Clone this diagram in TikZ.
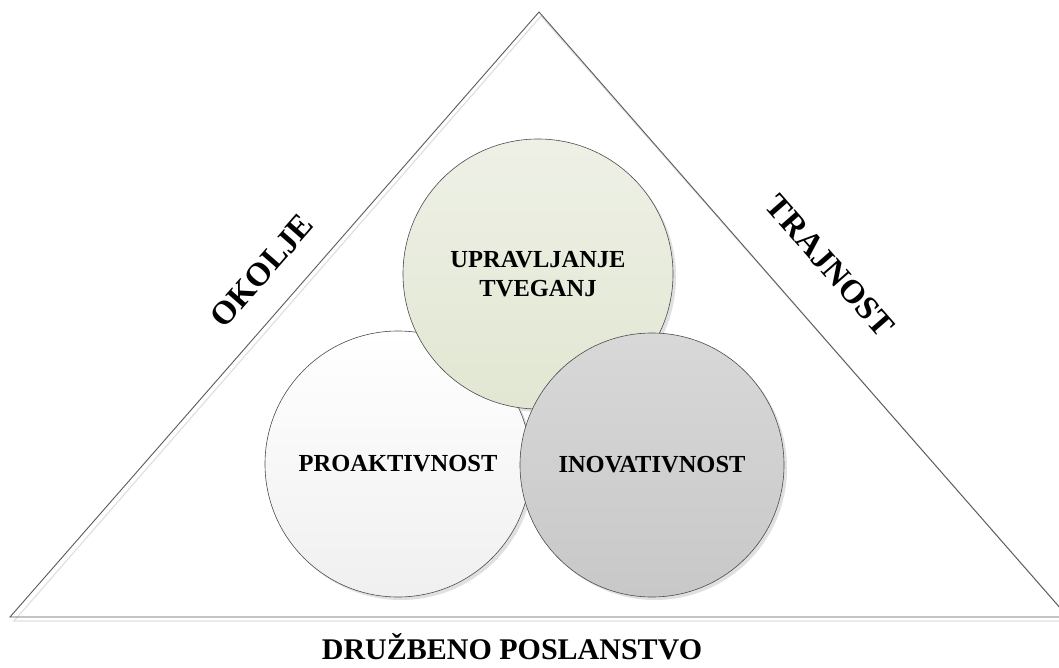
\documentclass[tikz,border=0pt]{standalone}
\usepackage{fontspec}
\setmainfont{Liberation Serif}
\begin{document}
\begin{tikzpicture}[x=1pt,y=-1pt,
  edge/.style={draw=black!65, line width=0.9pt},
  edgeshadow/.style={draw=black!12, line width=1.2pt},
  ball/.style={circle, inner sep=0pt, draw=black!70, line width=0.6pt,
    align=center, font=\fontsize{24.5}{29}\selectfont\bfseries},
  ballshadow/.style={circle, inner sep=0pt, fill=black!12},
  sidelabel/.style={font=\fontsize{33}{36}\selectfont\bfseries},
  baselabel/.style={font=\fontsize{30}{34}\selectfont\bfseries}]
  \useasboundingbox (0,0) rectangle (1059,668);
  \clip (0,0) rectangle (1059,668);

  % triangle corners
  \coordinate (apex) at (539,12);
  \coordinate (bl) at (10,617);
  \coordinate (br) at (1068,617);
  \coordinate (apexs) at (541,16);
  \coordinate (bls) at (14,621);
  \coordinate (brs) at (1072,621);

  % triangle with its light offset shadow
  \draw[edgeshadow] (apexs) -- (bls) -- (brs) -- cycle;
  \draw[edge] (apex) -- (bl) -- (br) -- cycle;

  % circle shadows
  \node[ballshadow, minimum size=266pt] (pros) at (401,467) {};
  \node[ballshadow, minimum size=270pt] (uprs) at (541,277) {};
  \node[ballshadow, minimum size=264pt] (inos) at (655,468) {};

  % circles, drawn back to front
  \node[ball, minimum size=266pt, top color=white, bottom color=black!6]
    (pro) at (398,464) {PROAKTIVNOST};
  \node[ball, minimum size=270pt, top color={rgb,255:red,238;green,240;blue,230},
    bottom color={rgb,255:red,225;green,231;blue,210}]
    (upr) at (538,274) {UPRAVLJANJE\\TVEGANJ};
  \node[ball, minimum size=264pt, top color={rgb,255:red,216;green,216;blue,216},
    bottom color={rgb,255:red,200;green,200;blue,200}]
    (ino) at (652,465) {INOVATIVNOST};

  % side labels
  \node[sidelabel, rotate=48.8] (okolje) at (262,271) {OKOLJE};
  \node[sidelabel, rotate=-48.8] (trajnost) at (830,266) {TRAJNOST};
  \node[baselabel] (druzbeno) at (512,647) {DRUŽBENO POSLANSTVO};
\end{tikzpicture}
\end{document}
